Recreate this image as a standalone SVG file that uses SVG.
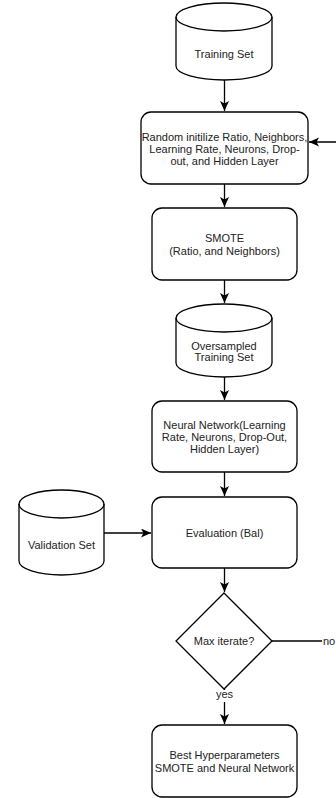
<svg xmlns="http://www.w3.org/2000/svg" width="336" height="798" viewBox="0 0 336 798">
<style>
.s{fill:#fff;stroke:#000;stroke-width:1.3}
.l{fill:none;stroke:#000;stroke-width:1.3}
text{font-family:"Liberation Sans",Arial,sans-serif;font-size:11px;fill:#222;text-anchor:middle}
</style>
<defs>
<marker id="a" markerUnits="userSpaceOnUse" markerWidth="12" markerHeight="10" refX="10" refY="4.5" orient="auto">
<path d="M0,0 L10,4.5 L0,9 L2.5,4.5 Z" fill="#000"/>
</marker>
</defs>
<rect width="336" height="798" fill="#fff"/>
<g id="connectors">
<path class="l" d="M224.5,80 V111" marker-end="url(#a)"/>
<path class="l" d="M224.5,184 V207" marker-end="url(#a)"/>
<path class="l" d="M224.5,280 V303" marker-end="url(#a)"/>
<path class="l" d="M224.5,377 V400" marker-end="url(#a)"/>
<path class="l" d="M224.5,472 V496" marker-end="url(#a)"/>
<path class="l" d="M104,533 H151" marker-end="url(#a)"/>
<path class="l" d="M224.5,568 V592" marker-end="url(#a)"/>
<path class="l" d="M224.5,689 V724" marker-end="url(#a)"/>
<path class="l" d="M272,641 H346 V142 H309" marker-end="url(#a)"/>
<rect x="214" y="690" width="21" height="12" fill="#fff"/>
<text x="224.5" y="698">yes</text>
<rect x="322" y="634" width="14" height="13" fill="#fff"/>
<text x="329" y="644.5">no</text>
</g>
<g id="training-set">
<path class="s" d="M176,17 A48,14 0 0 1 272,17 V66 A48,14 0 0 1 176,66 Z"/>
<path class="l" d="M176,17 A48,14 0 0 0 272,17"/>
<text x="224" y="58">Training Set</text>
</g>
<g id="random-init">
<rect class="s" x="141" y="112" width="167" height="72" rx="10"/>
<text x="224.5" y="140.5">Random initilize Ratio, Neighbors,</text>
<text x="224.5" y="152.5">Learning Rate, Neurons, Drop-</text>
<text x="224.5" y="164.5">out, and Hidden Layer</text>
</g>
<g id="smote">
<rect class="s" x="152" y="208" width="145" height="72" rx="10"/>
<text x="224.5" y="241.5">SMOTE</text>
<text x="224.5" y="254.5">(Ratio, and Neighbors)</text>
</g>
<g id="oversampled">
<path class="s" d="M176,318 A48,14 0 0 1 272,318 V363 A48,14 0 0 1 176,363 Z"/>
<path class="l" d="M176,318 A48,14 0 0 0 272,318"/>
<text x="224" y="349.5">Oversampled</text>
<text x="224" y="361">Training Set</text>
</g>
<g id="neural-network">
<rect class="s" x="152" y="401" width="145" height="71" rx="10"/>
<text x="224.5" y="428.5">Neural Network(Learning</text>
<text x="224.5" y="440.5">Rate, Neurons, Drop-Out,</text>
<text x="224.5" y="453">Hidden Layer)</text>
</g>
<g id="evaluation">
<rect class="s" x="152" y="497" width="145" height="71" rx="10"/>
<text x="224.5" y="537">Evaluation (Bal)</text>
</g>
<g id="validation-set">
<path class="s" d="M19,504 A42.5,14 0 0 1 104,504 V561 A42.5,14 0 0 1 19,561 Z"/>
<path class="l" d="M19,504 A42.5,14 0 0 0 104,504"/>
<text x="61.5" y="549">Validation Set</text>
</g>
<g id="max-iterate">
<path class="s" d="M224,593 L272,641 L224,689 L176,641 Z"/>
<text x="224" y="644.5">Max iterate?</text>
</g>
<g id="best">
<rect class="s" x="152" y="725" width="145" height="72" rx="10"/>
<text x="224.5" y="758.5">Best Hyperparameters</text>
<text x="224.5" y="771.5">SMOTE and Neural Network</text>
</g>
</svg>
